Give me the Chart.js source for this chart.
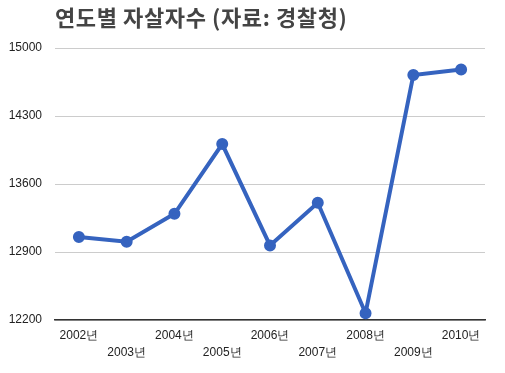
<!DOCTYPE html>
<html>
<head>
<meta charset="utf-8">
<script src="https://cdn.jsdelivr.net/npm/chart.js@4.4.1/dist/chart.umd.min.js"></script>
<style>
  html, body { margin: 0; padding: 0; background: #fff; }
  #wrap { width: 505px; height: 373px; }
</style>
</head>
<body>
<div id="wrap"><canvas id="chart_suicide" width="505" height="373"></canvas></div>
<script>
const chartTitle = '연도별 자살자수 (자료: 경찰청)';
const years = ['2002년', '2003년', '2004년', '2005년', '2006년', '2007년', '2008년', '2009년', '2010년'];
const suicides = [13055, 13005, 13293, 14011, 12968, 13407, 12270, 14722, 14779];
const yTicks = [12200, 12900, 13600, 14300, 15000];

// title sits at the left edge of the plot area
const titlePlugin = {
    id: 'leftTitle',
    afterDraw(chart) {
        const ctx = chart.ctx;
        ctx.save();
        ctx.font = 'bold 22px "Noto Sans CJK KR", sans-serif';
        ctx.letterSpacing = '0.6px';
        ctx.fillStyle = '#444444';
        ctx.textAlign = 'left';
        ctx.textBaseline = 'middle';
        ctx.fillText(chartTitle, chart.chartArea.left, 18);
        ctx.restore();
    }
};

new Chart(document.getElementById('chart_suicide'), {
    type: 'line',
    data: {
        labels: years,
        datasets: [{
            data: suicides,
            borderColor: '#3563bf',
            backgroundColor: '#3563bf',
            borderWidth: 4,
            pointRadius: 4,
            pointHoverRadius: 4,
            tension: 0,
            fill: false
        }]
    },
    options: {
        responsive: false,
        animation: false,
        layout: { padding: { left: 0, right: 20, top: 48, bottom: 0 } },
        plugins: {
            legend: { display: false },
            tooltip: { enabled: false }
        },
        scales: {
            x: {
                offset: true,
                grid: { display: false, drawTicks: false },
                border: { display: true, color: '#333333', width: 1.5 },
                afterFit: function (scale) { scale.height = 53; },
                ticks: {
                    autoSkip: false,
                    maxRotation: 0,
                    minRotation: 0,
                    padding: 7,
                    color: '#222222',
                    font: { family: '"Liberation Sans", Arial, sans-serif', size: 12, lineHeight: 1.4 },
                    callback: function (value, index) {
                        const label = years[index];
                        return index % 2 === 1 ? ['', label] : label;
                    }
                }
            },
            y: {
                min: 12200,
                max: 15000,
                afterFit: function (scale) { scale.width = 55; },
                afterBuildTicks: function (scale) {
                    scale.ticks = yTicks.map(v => ({ value: v }));
                },
                grid: { color: '#cccccc', drawTicks: false },
                border: { display: false },
                ticks: {
                    padding: 13,
                    color: '#222222',
                    font: { family: '"Liberation Sans", Arial, sans-serif', size: 12 },
                    callback: function (value) { return String(value); }
                }
            }
        }
    },
    plugins: [titlePlugin]
});
</script>
</body>
</html>
